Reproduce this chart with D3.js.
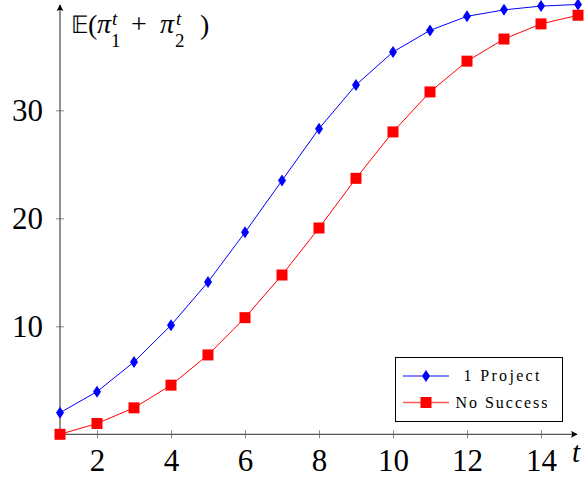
<!DOCTYPE html>
<html>
<head>
<meta charset="utf-8">
<script src="https://cdn.jsdelivr.net/npm/d3@7"></script>
<style>
  body { margin: 0; background: #fff; }
  svg { display: block; }
</style>
</head>
<body>
<div id="chart"></div>
<script>
// data
const periods = [1, 2, 3, 4, 5, 6, 7, 8, 9, 10, 11, 12, 13, 14, 15]
const oneProject = [2.0, 3.95, 6.7, 10.1, 14.1, 18.7, 23.5, 28.3, 32.35, 35.4, 37.4, 38.7, 39.3, 39.65, 39.8]
const noSuccess = [0.0, 1.0, 2.45, 4.55, 7.35, 10.8, 14.75, 19.1, 23.7, 28.0, 31.7, 34.55, 36.6, 38.0, 38.8]
const xTicks = [2, 4, 6, 8, 10, 12, 14]
const yTicks = [10, 20, 30]
const seriesNames = ['1 Project', 'No Success']

const width = 584
const height = 479
const serif = 'Liberation Serif'

const x = d3.scaleLinear().domain([1, 15]).range([60, 578])
const y = d3.scaleLinear().domain([0, 10]).range([434.3, 326.3])

const svg = d3.select('#chart').append('svg')
  .attr('width', width)
  .attr('height', height)

const defs = svg.append('defs')
defs.append('marker')
  .attr('id', 'arrow')
  .attr('viewBox', '0 0 10 10')
  .attr('refX', 9)
  .attr('refY', 5)
  .attr('markerWidth', 7)
  .attr('markerHeight', 7)
  .attr('markerUnits', 'userSpaceOnUse')
  .attr('orient', 'auto')
  .append('path')
  .attr('d', 'M0,0 Q4,5 0,10 L10,5 Z')
  .attr('fill', '#000')

const axisColor = '#555'
const tickColor = '#888'

// x axis
const xAxis = svg.append('g')
  .attr('transform', `translate(0,${y(0)})`)
  .call(d3.axisBottom(x).tickValues(xTicks).tickSize(4).tickPadding(0).tickFormat(d3.format('d')))
xAxis.select('.domain').remove()
xAxis.selectAll('.tick line')
  .attr('y1', -4)
  .attr('y2', 4)
  .attr('stroke', tickColor)
  .attr('stroke-width', 1)
xAxis.selectAll('.tick text')
  .attr('y', 37)
  .attr('dy', null)
  .attr('font-family', serif)
  .attr('font-size', 31)
  .attr('fill', '#000')

svg.append('line')
  .attr('x1', x(1) - 0.5)
  .attr('x2', 577)
  .attr('y1', y(0))
  .attr('y2', y(0))
  .attr('stroke', axisColor)
  .attr('stroke-width', 1.3)
  .attr('marker-end', 'url(#arrow)')

// y axis
const yAxis = svg.append('g')
  .attr('transform', `translate(${x(1)},0)`)
  .call(d3.axisLeft(y).tickValues(yTicks).tickSize(4).tickPadding(0).tickFormat(d3.format('d')))
yAxis.select('.domain').remove()
yAxis.selectAll('.tick line')
  .attr('x1', -4)
  .attr('x2', 4)
  .attr('stroke', tickColor)
  .attr('stroke-width', 1)
yAxis.selectAll('.tick text')
  .attr('x', -17)
  .attr('dy', '0.34em')
  .attr('font-family', serif)
  .attr('font-size', 31)
  .attr('fill', '#000')

svg.append('line')
  .attr('x1', x(1))
  .attr('x2', x(1))
  .attr('y1', y(0) + 0.5)
  .attr('y2', 5)
  .attr('stroke', axisColor)
  .attr('stroke-width', 1.3)
  .attr('marker-end', 'url(#arrow)')

// axis labels: E(pi_1^t + pi_2^t), pieces placed one by one
const labelParts = [
  {t: '𝔼', x: 71, y: 33, size: 24},
  {t: '(', x: 88, y: 34},
  {t: 'π', x: 97, y: 33, it: true},
  {t: 't', x: 112, y: 25, it: true, small: true},
  {t: '1', x: 111, y: 47, small: true},
  {t: '+', x: 131, y: 33},
  {t: 'π', x: 160, y: 33, it: true},
  {t: 't', x: 176, y: 25, it: true, small: true},
  {t: '2', x: 175, y: 47, small: true},
  {t: ')', x: 200, y: 34}
]
labelParts.forEach(p => {
  svg.append('text')
    .attr('x', p.x)
    .attr('y', p.y)
    .attr('font-family', serif)
    .attr('font-size', p.size || (p.small ? 19 : 28))
    .attr('font-style', p.it ? 'italic' : null)
    .text(p.t)
})

svg.append('text')
  .attr('x', 572)
  .attr('y', 462)
  .attr('font-family', serif)
  .attr('font-size', 29)
  .attr('font-style', 'italic')
  .text('t')

// series
const line = d3.line()
  .x((d, i) => x(periods[i]))
  .y(d => y(d))

const diamond = (cx, cy) => `M${cx},${cy - 6}L${cx + 4},${cy}L${cx},${cy + 6}L${cx - 4},${cy}Z`
const square = (cx, cy) => `M${cx - 5.5},${cy - 5.5}h11v11h-11Z`

const series = [
  {name: seriesNames[0], values: oneProject, color: '#0000ff', mark: diamond},
  {name: seriesNames[1], values: noSuccess, color: '#ff0000', mark: square}
]

series.forEach(s => {
  svg.append('path')
    .datum(s.values)
    .attr('d', line)
    .attr('fill', 'none')
    .attr('stroke', s.color)
    .attr('stroke-width', 1)
  svg.selectAll(null)
    .data(s.values)
    .enter()
    .append('path')
    .attr('d', (d, i) => s.mark(x(periods[i]), y(d)))
    .attr('fill', s.color)
})

// legend
const legend = svg.append('g')
legend.append('rect')
  .attr('x', 395.5)
  .attr('y', 357.5)
  .attr('width', 167)
  .attr('height', 64)
  .attr('fill', '#fff')
  .attr('stroke', '#000')
  .attr('stroke-width', 1)

series.forEach((s, i) => {
  const ly = 376 + i * 26.5
  legend.append('line')
    .attr('x1', 403)
    .attr('x2', 449)
    .attr('y1', ly)
    .attr('y2', ly)
    .attr('stroke', s.color)
    .attr('stroke-opacity', 0.65)
    .attr('stroke-width', 1.3)
  legend.append('path')
    .attr('d', s.mark(426, ly))
    .attr('fill', s.color)
  legend.append('text')
    .attr('x', 501.5)
    .attr('y', ly + 5)
    .attr('text-anchor', 'middle')
    .attr('font-family', serif)
    .attr('font-size', 16)
    .attr('textLength', i === 0 ? 76 : 92)
    .attr('lengthAdjust', 'spacing')
    .text(s.name)
})
</script>
</body>
</html>
